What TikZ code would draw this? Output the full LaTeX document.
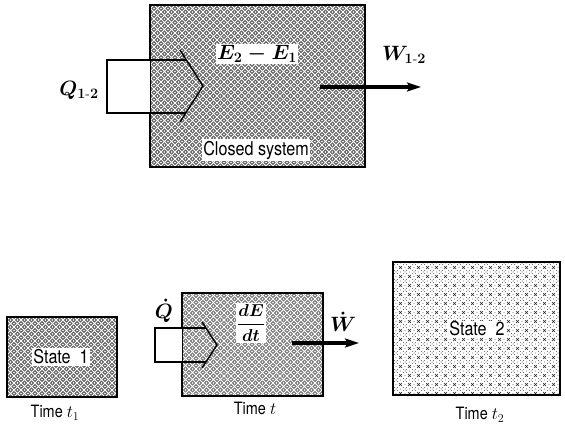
\documentclass[tikz,border=0pt]{standalone}
\usepackage{amsmath}
\usepackage{fontspec}
\setsansfont{TeX Gyre Heros}[FakeStretch=0.85]
\usetikzlibrary{patterns,arrows.meta}
\pgfdeclarepatternformonly{diamondmesh}{\pgfqpoint{-1pt}{-1pt}}{\pgfqpoint{8pt}{8pt}}{\pgfqpoint{7pt}{7pt}}{%
  \pgfsetlinewidth{0.9pt}%
  \pgfpathmoveto{\pgfqpoint{0pt}{0pt}}\pgfpathlineto{\pgfqpoint{7pt}{7pt}}%
  \pgfpathmoveto{\pgfqpoint{0pt}{7pt}}\pgfpathlineto{\pgfqpoint{7pt}{0pt}}%
  \pgfusepath{stroke}%
  \pgfpathcircle{\pgfqpoint{3.5pt}{0pt}}{0.9pt}%
  \pgfpathcircle{\pgfqpoint{0pt}{3.5pt}}{0.9pt}%
  \pgfusepath{fill}%
}
\pgfdeclarepatternformonly{sparsemesh}{\pgfqpoint{-1pt}{-1pt}}{\pgfqpoint{10pt}{10pt}}{\pgfqpoint{9pt}{9pt}}{%
  \pgfsetlinewidth{0.5pt}%
  \pgfpathmoveto{\pgfqpoint{3pt}{3pt}}\pgfpathlineto{\pgfqpoint{6pt}{6pt}}%
  \pgfpathmoveto{\pgfqpoint{3pt}{6pt}}\pgfpathlineto{\pgfqpoint{6pt}{3pt}}%
  \pgfusepath{stroke}%
  \pgfpathcircle{\pgfqpoint{0pt}{0pt}}{0.5pt}%
  \pgfpathcircle{\pgfqpoint{1.5pt}{1.5pt}}{0.4pt}%
  \pgfpathcircle{\pgfqpoint{7.5pt}{1.5pt}}{0.4pt}%
  \pgfpathcircle{\pgfqpoint{1.5pt}{7.5pt}}{0.4pt}%
  \pgfpathcircle{\pgfqpoint{7.5pt}{7.5pt}}{0.4pt}%
  \pgfpathcircle{\pgfqpoint{4.5pt}{0pt}}{0.4pt}%
  \pgfpathcircle{\pgfqpoint{0pt}{4.5pt}}{0.4pt}%
  \pgfusepath{fill}%
}
\tikzset{
  darkbox/.style={draw, line width=2.5pt, preaction={fill=black!62}, pattern=diamondmesh, pattern color=white, inner sep=0pt},
  midbox/.style={draw, line width=2.5pt, preaction={fill=black!52}, pattern=diamondmesh, pattern color=white, inner sep=0pt},
  lightbox/.style={draw, line width=2.5pt, preaction={fill=white}, pattern=sparsemesh, pattern color=black!85, inner sep=0pt},
  whitelab/.style={fill=white, inner sep=1.5pt},
  sanslab/.style={font=\sffamily\fontsize{19}{21}\selectfont},
  timelab/.style={font=\sffamily\fontsize{17}{19}\selectfont},
  mathlab/.style={font=\fontsize{20}{22}\selectfont\boldmath},
  heatline/.style={line width=1.4pt, line join=miter},
  workarrow/.style={line width=3.2pt, -{Stealth[length=14pt,width=9pt,inset=3pt]}},
}
\begin{document}
\begin{tikzpicture}[x=1pt,y=-1pt]
\useasboundingbox (0,0) rectangle (565,425);
% ---------- top: closed system ----------
\node[darkbox, minimum width=215pt, minimum height=162pt] (sys) at (257.5,86) {};
\fill[white] (107,60) rectangle (150,113);
\draw[heatline] (186,60) -- (107,60) -- (107,113) -- (186,113);
\draw[heatline] (180,50) -- (203,86) -- (180,122);
\node[mathlab] (q12) at (79,90) {$Q_{\mathbf{1\text{-}2}}$};
\node[whitelab, mathlab] (de) at (257,54) {$E_2 - E_1$};
\node[whitelab, sanslab] (cs) at (256,150) {Closed system};
\coordinate (wstart) at (320,87);
\coordinate (wend) at (421,87);
\draw[workarrow] (wstart) -- (wend);
\node[mathlab] (w12) at (404,55) {$W_{\mathbf{1\text{-}2}}$};
% ---------- bottom left: state 1 ----------
\node[darkbox, minimum width=110pt, minimum height=80pt] (s1) at (62,357) {};
\node[whitelab, sanslab] (s1lab) at (61,357) {State\ \ 1};
\node[timelab] (t1) at (55,413) {Time $t_1$};
% ---------- bottom middle: rate form ----------
\node[midbox, minimum width=141pt, minimum height=103pt] (mid) at (252.5,344.5) {};
\fill[white] (155,328) rectangle (182,362);
\draw[heatline] (206,328) -- (155,328) -- (155,362) -- (206,362);
\draw[heatline] (202,322) -- (217,345) -- (202,368);
\node[mathlab] (qdot) at (164,311) {$\dot{Q}$};
\node[whitelab, font=\fontsize{17}{19}\selectfont\boldmath] (dedt) at (251,323) {$\dfrac{dE}{dt}$};
\coordinate (wdstart) at (292,343);
\coordinate (wdend) at (359,343);
\draw[workarrow] (wdstart) -- (wdend);
\node[mathlab] (wdot) at (343,322) {$\dot{W}$};
\node[timelab] (tt) at (255,408) {Time $t$};
% ---------- bottom right: state 2 ----------
\node[lightbox, minimum width=167pt, minimum height=133pt] (s2) at (476.5,328.5) {};
\node[whitelab, sanslab, inner sep=1pt] (s2lab) at (477,329) {State\ \ 2};
\node[timelab] (t2) at (480,415) {Time $t_2$};
\end{tikzpicture}
\end{document}
